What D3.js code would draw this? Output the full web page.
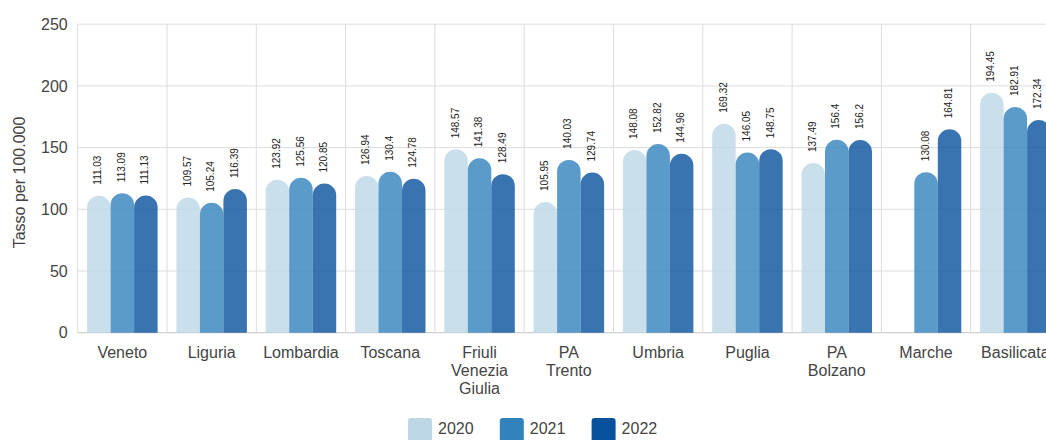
<!DOCTYPE html>
<html>
<head>
<meta charset="utf-8">
<script src="https://cdn.jsdelivr.net/npm/d3@7"></script>
<style>
	html, body { margin: 0; padding: 0; background: #fff; overflow: hidden; }
	svg { display: block; font-family: "Liberation Sans", Arial, sans-serif; }
</style>
</head>
<body>
<div id="chart"></div>
<script>
// regioni e tassi per 100.000
var categories = ['Veneto', 'Liguria', 'Lombardia', 'Toscana', 'Friuli Venezia Giulia', 'PA Trento',
	'Umbria', 'Puglia', 'PA Bolzano', 'Marche', 'Basilicata'];
var years = ['2020', '2021', '2022'];
var values2020 = [111.03, 109.57, 123.92, 126.94, 148.57, 105.95, 148.08, 169.32, 137.49, null, 194.45];
var values2021 = [113.09, 105.24, 125.56, 130.4, 141.38, 140.03, 152.82, 146.05, 156.4, 130.08, 182.91];
var values2022 = [111.13, 116.39, 120.85, 124.78, 128.49, 129.74, 144.96, 148.75, 156.2, 164.81, 172.34];
var yTicks = [0, 50, 100, 150, 200, 250];
var colors = ['#bdd7e7', '#3182bd', '#08519c'];

var series = [values2020, values2021, values2022];

var width = 1046, height = 440;
var margin = {top: 24.2, left: 77.7, bottom: 107.3};
var step = 89.3;

var svg = d3.select('#chart').append('svg')
	.attr('width', width)
	.attr('height', height);

var x0 = d3.scaleBand()
	.domain(categories)
	.range([margin.left, margin.left + step * categories.length])
	.padding(0);

var x1 = d3.scaleBand()
	.domain(years)
	.range([0, x0.bandwidth()])
	.paddingInner(0)
	.paddingOuter(0.4);

var y = d3.scaleLinear()
	.domain([0, 250])
	.range([height - margin.bottom, margin.top]);

var gridColor = '#dcdcdc';

// horizontal grid
svg.append('g').selectAll('line')
	.data(yTicks)
	.enter().append('line')
	.attr('x1', margin.left)
	.attr('x2', x0.range()[1])
	.attr('y1', function(d){ return y(d); })
	.attr('y2', function(d){ return y(d); })
	.attr('stroke', function(d){ return d === 0 ? '#c4c4c4' : gridColor; })
	.attr('stroke-width', 1);

// vertical grid at group boundaries
svg.append('g').selectAll('line')
	.data(categories)
	.enter().append('line')
	.attr('x1', function(d){ return x0(d); })
	.attr('x2', function(d){ return x0(d); })
	.attr('y1', y(250))
	.attr('y2', y(0))
	.attr('stroke', gridColor)
	.attr('stroke-width', 1);

// y axis labels
var yAxis = d3.axisLeft(y).tickValues(yTicks).tickSize(0).tickPadding(10);
var yG = svg.append('g')
	.attr('transform', 'translate(' + [margin.left, 0] + ')')
	.call(yAxis);
yG.select('.domain').remove();
yG.selectAll('text')
	.attr('font-size', 16)
	.attr('font-family', '"Liberation Sans", Arial, sans-serif')
	.attr('fill', '#444');

svg.append('text')
	.attr('transform', 'translate(' + [25, (y(0) + y(250)) / 2 + 4] + ') rotate(-90)')
	.attr('text-anchor', 'middle')
	.attr('font-size', 16)
	.attr('fill', '#444')
	.text('Tasso per 100.000');

// bars: square bottom, fully rounded top
function barPath(x, w, top, bottom){
	var r = w / 2;
	if (bottom - top < r) r = bottom - top;
	return 'M' + x + ',' + bottom +
		'L' + x + ',' + (top + r) +
		'A' + r + ',' + r + ' 0 0 1 ' + (x + w) + ',' + (top + r) +
		'L' + (x + w) + ',' + bottom + 'Z';
}

var groups = svg.append('g').selectAll('g')
	.data(categories)
	.enter().append('g')
	.attr('transform', function(d){ return 'translate(' + [x0(d), 0] + ')'; });

var cells = groups.selectAll('g')
	.data(function(d, i){
		return years.map(function(yr, j){ return {year: yr, idx: j, value: series[j][i]}; })
			.filter(function(c){ return c.value != null; });
	})
	.enter().append('g');

cells.append('path')
	.attr('d', function(d){ return barPath(x1(d.year), x1.bandwidth(), y(d.value), y(0)); })
	.attr('fill', function(d){ return colors[d.idx]; })
	.attr('fill-opacity', 0.8);

cells.append('text')
	.attr('transform', function(d){
		return 'translate(' + [x1(d.year) + x1.bandwidth() / 2, y(d.value) - 11] + ') rotate(-90)';
	})
	.attr('text-anchor', 'start')
	.attr('dominant-baseline', 'middle')
	.attr('font-size', 10)
	.attr('fill', '#222')
	.text(function(d){ return d.value; });

// category labels, one word per line
var xLabels = svg.append('g').selectAll('text')
	.data(categories)
	.enter().append('text')
	.attr('x', function(d){ return x0(d) + x0.bandwidth() / 2; })
	.attr('y', y(0) + 25)
	.attr('text-anchor', 'middle')
	.attr('font-size', 16)
	.attr('fill', '#444');

xLabels.each(function(d){
	var words = d.split(' ');
	var t = d3.select(this);
	var lines = words.length > 1 ? words : [d];
	lines.forEach(function(w, i){
		t.append('tspan')
			.attr('x', x0(d) + x0.bandwidth() / 2)
			.attr('dy', i === 0 ? 0 : 18.3)
			.text(w);
	});
});

// legend
var legend = svg.append('g').attr('transform', 'translate(' + [408, 418] + ')');
var item = legend.selectAll('g')
	.data(years)
	.enter().append('g')
	.attr('transform', function(d, i){ return 'translate(' + [i * 91.8, 0] + ')'; });

item.append('rect')
	.attr('width', 24)
	.attr('height', 24)
	.attr('rx', 3)
	.attr('fill', function(d, i){ return colors[i]; });

item.append('text')
	.attr('x', 30)
	.attr('y', 16)
	.attr('font-size', 16)
	.attr('fill', '#444')
	.text(function(d){ return d; });
</script>
</body>
</html>
